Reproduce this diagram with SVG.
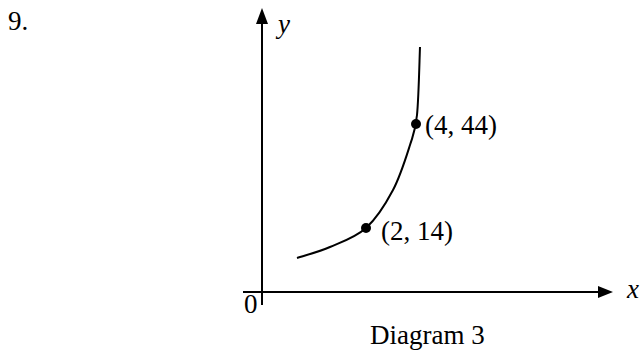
<svg xmlns="http://www.w3.org/2000/svg" width="643" height="356" viewBox="0 0 643 356">
<style>
text{font-family:"Liberation Serif","Times New Roman",serif;font-size:27px;fill:#000}
.it{font-style:italic}
.ax{stroke:#000;stroke-width:2;fill:none}
</style>
<rect width="643" height="356" fill="#fff"/>
<text x="8" y="30">9.</text>
<g id="axes">
<line class="ax" x1="262" y1="305" x2="262" y2="20"/>
<polygon points="262,8 256,24 268,24" fill="#000"/>
<line class="ax" x1="243" y1="292" x2="602" y2="292"/>
<polygon points="613,292 598,286 598,298" fill="#000"/>
<text class="it" x="278" y="33">y</text>
<text class="it" x="627" y="298">x</text>
<text x="244" y="313">0</text>
</g>
<g id="connectors">
<path class="ax" d="M297,258 C302.5,256.2 318.5,252 330,247 C341.5,242 355.5,237.5 366,228 C376.5,218.5 385.7,203.8 393,190 C400.3,176.2 406,157.5 410,145 C414,132.5 415.3,131.3 417,115 C418.7,98.7 419.5,58.3 420,47"/>
</g>
<g id="point1">
<circle cx="366" cy="228" r="5" fill="#000"/>
<text x="381" y="240">(2, 14)</text>
</g>
<g id="point2">
<circle cx="416" cy="124" r="5" fill="#000"/>
<text x="425" y="134">(4, 44)</text>
</g>
<text x="370" y="344">Diagram 3</text>
</svg>
